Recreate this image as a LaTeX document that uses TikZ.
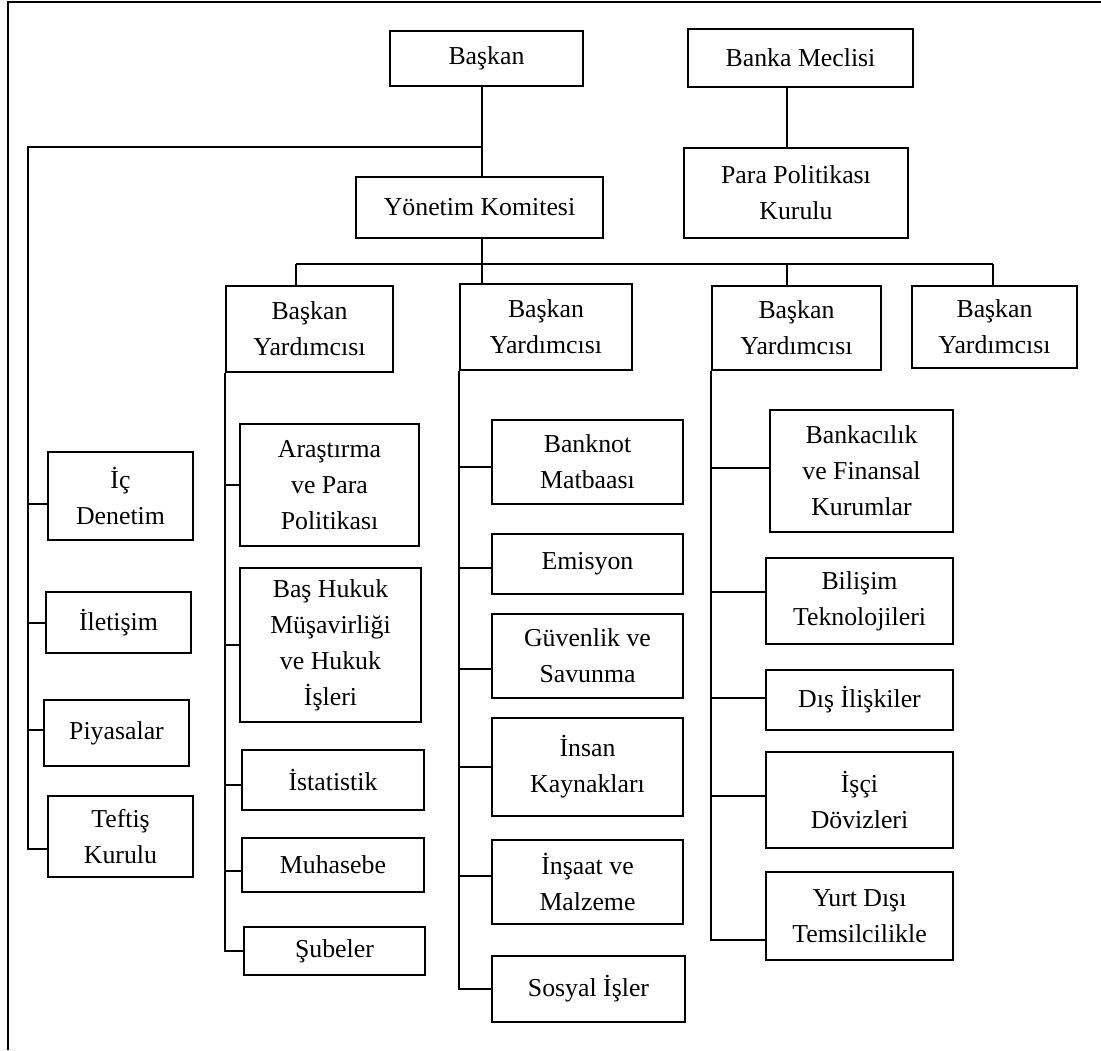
\documentclass[tikz,border=0pt]{standalone}
\usepackage{fontspec}
\setmainfont{Liberation Serif}
\usepackage{tikz}
\usetikzlibrary{positioning}

\begin{document}
\begin{tikzpicture}[
    x=0.5pt, y=-0.5pt,
    font=\fontsize{12.9}{18}\selectfont,
    line width=1pt,
    box/.style={draw, align=center, inner sep=0pt},
    wh/.style 2 args={minimum width={#1*0.5pt}, minimum height={#2*0.5pt}},
    link/.style={line width=1pt},
  ]
    \useasboundingbox (0,0) rectangle (1101,1050);
    \draw (8,1050) -- (8,2) -- (1101,2);

    \node[box, wh={193}{55}] (baskan) at (486.5,58.5) {Başkan};
    \node[box, wh={225}{58}] (meclis) at (800.5,58) {Banka Meclisi};
    \node[box, wh={247}{61}] (yonetim) at (479.5,207.5) {Yönetim Komitesi};
    \node[box, wh={224}{90}] (para) at (796,193) {Para Politikası\\Kurulu};

    \node[box, wh={167}{86}] (by1) at (309.5,329) {Başkan\\Yardımcısı};
    \node[box, wh={172}{86}] (by2) at (546,327) {Başkan\\Yardımcısı};
    \node[box, wh={169}{84}] (by3) at (796.5,328) {Başkan\\Yardımcısı};
    \node[box, wh={165}{82}] (by4) at (994.5,327) {Başkan\\Yardımcısı};

    \node[box, wh={145}{88}] (icdenetim) at (120.5,496) {İç\\Denetim};
    \node[box, wh={145}{61}] (iletisim) at (118.5,622.5) {İletişim};
    \node[box, wh={145}{66}] (piyasalar) at (116.5,733) {Piyasalar};
    \node[box, wh={145}{81}] (teftis) at (120.5,836.5) {Teftiş\\Kurulu};

    \node[box, wh={179}{122}] (arastirma) at (329.5,485) {Araştırma\\ve Para\\Politikası};
    \node[box, wh={181}{154}] (hukuk) at (330.5,645) {Baş Hukuk\\Müşavirliği\\ve Hukuk\\İşleri};
    \node[box, wh={182}{60}] (istatistik) at (333,780) {İstatistik};
    \node[box, wh={182}{54}] (muhasebe) at (333,865) {Muhasebe};
    \node[box, wh={181}{48}] (subeler) at (334.5,951) {Şubeler};

    \node[box, wh={191}{84}] (banknot) at (587.5,462) {Banknot\\Matbaası};
    \node[box, wh={191}{60}] (emisyon) at (587.5,564) {Emisyon};
    \node[box, wh={191}{84}] (guvenlik) at (587.5,656) {Güvenlik ve\\Savunma};
    \node[box, wh={191}{98}] (insan) at (587.5,767) {İnsan\\Kaynakları};
    \node[box, wh={191}{84}] (insaat) at (587.5,882) {İnşaat ve\\Malzeme};
    \node[box, wh={193}{66}] (sosyal) at (588.5,989) {Sosyal İşler};

    \node[box, wh={183}{122}] (bankacilik) at (861.5,471) {Bankacılık\\ve Finansal\\Kurumlar};
    \node[box, wh={187}{86}] (bilisim) at (859.5,601) {Bilişim\\Teknolojileri};
    \node[box, wh={187}{60}] (dis) at (859.5,700) {Dış İlişkiler};
    \node[box, wh={187}{96}] (isci) at (859.5,800) {İşçi\\Dövizleri};
    \node[box, wh={187}{88}] (yurt) at (859.5,916) {Yurt Dışı\\Temsilcilikle};

    \coordinate (split) at (482,147);
    \coordinate (lefttop) at (28,147);
    \coordinate (mp) at (787,87);
    \coordinate (bar1) at (296,264);
    \coordinate (bar2) at (482,264);
    \coordinate (bar3) at (787,264);
    \coordinate (bar4) at (993,264);

    \draw[link] (split |- baskan.south) -- (split |- yonetim.north);
    \draw[link] (split) -- (lefttop) |- ([yshift=-6pt]teftis.west);
    \draw[link] (mp) -- (mp |- para.north);
    \draw[link] (bar2 |- yonetim.south) -- (bar2);
    \draw[link] (bar1) -- (bar4);
    \foreach \c/\n in {bar1/by1, bar2/by2, bar3/by3, bar4/by4}
      \draw[link] (\c) -- (\c |- \n.north);

    \foreach \n/\s in {icdenetim/-4pt, iletisim/0pt, piyasalar/1.5pt}
      \draw[link] ([yshift=\s]\n.west) coordinate (t) -- (t -| lefttop);

    \draw[link] (by1.south west) |- (subeler.west);
    \foreach \n/\s in {arastirma/0pt, hukuk/0pt, istatistik/-2.5pt, muhasebe/-3pt}
      \draw[link] ([yshift=\s]\n.west) coordinate (t) -- (t -| by1.south west);

    \draw[link] (by2.south west) |- (sosyal.west);
    \foreach \n/\s in {banknot/-2.5pt, emisyon/-2pt, guvenlik/-6.5pt, insan/0pt, insaat/3pt}
      \draw[link] ([yshift=\s]\n.west) coordinate (t) -- (t -| by2.south west);

    \draw[link] (by3.south west) |- ([yshift=-12pt]yurt.west);
    \foreach \n/\s in {bankacilik/1.5pt, bilisim/4.5pt, dis/1pt, isci/2pt}
      \draw[link] ([yshift=\s]\n.west) coordinate (t) -- (t -| by3.south west);
  \end{tikzpicture}
\end{document}
